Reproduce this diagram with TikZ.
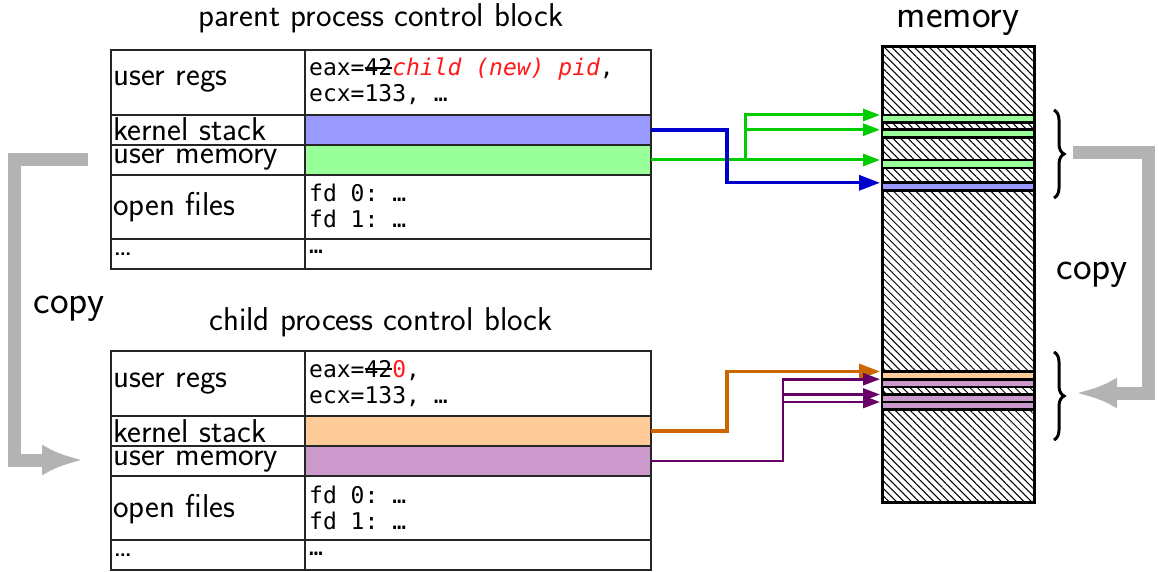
\documentclass[tikz,border=0pt]{standalone}
\usepackage{fontspec}
\setmonofont{DejaVu Sans Mono}
\usetikzlibrary{arrows.meta,patterns.meta,decorations.pathreplacing}

\definecolor{ksblue}{HTML}{9999FF}
\definecolor{umgreen}{HTML}{99FF99}
\definecolor{ksorange}{HTML}{FFCC99}
\definecolor{umpurple}{HTML}{CC99CC}
\definecolor{arblue}{HTML}{0000CC}
\definecolor{argreen}{HTML}{00CC00}
\definecolor{arorange}{HTML}{CC6600}
\definecolor{arpurple}{HTML}{660066}
\definecolor{copygray}{HTML}{B3B3B3}
\definecolor{newval}{HTML}{FF1A1A}

% struck-through text
\newcommand\struck[1]{\setbox0\hbox{#1}\rlap{\rule[0.3em]{\wd0}{0.07em}}\box0}

\tikzset{
  cellbox/.style={draw=black!85, line width=1.2pt, inner sep=0pt, outer sep=0pt,
    anchor=north west},
  lblcell/.style={cellbox, minimum width=194pt},
  valcell/.style={cellbox, minimum width=346pt},
  lbltext/.style={anchor=base west, inner sep=0pt, font=\fontsize{33}{36}\sffamily},
  valtext/.style={anchor=base west, inner sep=0pt, align=left,
    font=\fontsize{23}{26}\ttfamily},
  title/.style={anchor=base, inner sep=0pt, font=\fontsize{33}{38}\sffamily},
  bigtitle/.style={anchor=base, inner sep=0pt, font=\fontsize{39.5}{44}\sffamily},
  band/.style={draw=black, line width=2.6pt, inner sep=0pt, outer sep=0pt,
    minimum width=152pt, anchor=north west},
  ptr/.style={line width=3pt, -{Triangle[length=17pt,width=12pt]}},
  bigptr/.style={line width=3.3pt, -{Triangle[length=21pt,width=15pt]}},
  copyarrow/.style={draw=copygray, line width=13pt, line join=miter,
    -{Latex[length=41pt,width=31pt]}},
  bracemark/.style={decorate, decoration={brace, amplitude=10pt}, line width=3pt},
}

% one process control block: #1 name prefix, #2 vertical offset,
% #3 kernel stack colour, #4 user memory colour, #5 saved eax text
\newcommand\pcbtable[5]{%
  \begin{scope}[shift={(0,#2)}]
    \node[lblcell, minimum height=65pt] (#1-regsL) at (111,50) {};
    \node[valcell, minimum height=65pt] (#1-regs) at (305,50) {};
    \node[lblcell, minimum height=30pt] (#1-ksL) at (111,115) {};
    \node[valcell, minimum height=30pt, fill=#3] (#1-ks) at (305,115) {};
    \node[lblcell, minimum height=30pt] (#1-umL) at (111,145) {};
    \node[valcell, minimum height=30pt, fill=#4] (#1-um) at (305,145) {};
    \node[lblcell, minimum height=64pt] (#1-ofL) at (111,175) {};
    \node[valcell, minimum height=64pt] (#1-of) at (305,175) {};
    \node[lblcell, minimum height=30pt] (#1-etcL) at (111,239) {};
    \node[valcell, minimum height=30pt] (#1-etc) at (305,239) {};
    \node[lbltext] (#1-t1) at (113,86) {user regs};
    \node[lbltext] (#1-t2) at (113,141) {kernel stack};
    \node[lbltext] (#1-t3) at (113,164) {user memory};
    \node[lbltext] (#1-t4) at (113,216) {open files};
    \node[lbltext] (#1-t5) at (113,255) {…};
    \node[valtext] (#1-v1) at (309,76) {eax=#5,};
    \node[valtext] (#1-v2) at (309,102) {ecx=133, …};
    \node[valtext] (#1-v3) at (309,202) {fd 0: …};
    \node[valtext] (#1-v4) at (309,228) {fd 1: …};
    \node[valtext] (#1-v5) at (309,254) {…};
  \end{scope}}

\begin{document}
\begin{tikzpicture}[x=1pt,y=-1pt]
  \useasboundingbox (0,0) rectangle (1159,572);

  % titles
  \node[title] (ptitle) at (381,27) {parent process control block};
  \node[title] (ctitle) at (381,330) {child process control block};
  \node[bigtitle] (mtitle) at (958,28) {memory};

  % the two control blocks
  \pcbtable{p}{0}{ksblue}{umgreen}{\struck{42}\textcolor{newval}{\itshape child (new) pid}}
  \pcbtable{c}{301}{ksorange}{umpurple}{\struck{42}\textcolor{newval}{0}}

  % memory with its used regions
  \node[draw=black, line width=3pt, inner sep=0pt, outer sep=0pt, anchor=north west,
        minimum width=152pt, minimum height=455pt,
        pattern={Lines[angle=-45,distance=5.3pt,line width=1pt]}] (mem) at (882,47) {};
  \node[band, fill=umgreen, minimum height=7.4pt] (mgA) at (882,115) {};
  \node[band, fill=umgreen, minimum height=8pt] (mgB) at (882,129.7) {};
  \node[band, fill=umgreen, minimum height=8pt] (mgC) at (882,160) {};
  \node[band, fill=ksblue, minimum height=7.7pt] (mbl) at (882,182.8) {};
  \node[band, fill=ksorange, minimum height=7.7pt] (mor) at (882,371.5) {};
  \node[band, fill=umpurple, minimum height=7.8pt] (mpA) at (882,379.2) {};
  \node[band, fill=umpurple, minimum height=7.5pt] (mpB) at (882,394.5) {};
  \node[band, fill=umpurple, minimum height=7.7pt] (mpC) at (882,402) {};

  % parent pointers into memory
  \draw[ptr, argreen] (p-um.east) -- ++(94,0) |- ([xshift=-2pt]mgA.north west);
  \draw[ptr, argreen] (p-um.east) -- ++(94,0) |- ([xshift=-2pt]mgB.north west);
  \draw[ptr, argreen] (p-um.east) -- ([xshift=-2pt]mgC.north west);
  \draw[bigptr, arblue] (p-ks.east) -- ++(76,0) |- ([xshift=-2pt]mbl.north west);

  % child pointers into memory
  \draw[bigptr, arorange] (c-ks.east) -- ++(76,0) |- ([xshift=-2pt]mor.north west);
  \draw[ptr, arpurple, line width=2.6pt] (c-um.east) -- ++(132,0) |- ([xshift=-2pt]mpA.north west);
  \draw[ptr, arpurple, line width=2.6pt] (c-um.east) -- ++(132,0) |- ([xshift=-2pt]mpB.north west);
  \draw[ptr, arpurple, line width=2.6pt] (c-um.east) -- ++(132,0) |- ([xshift=-2pt]mpC.north west);

  % braces round the parent and child regions
  \coordinate (pbrTop) at (1054,110);
  \coordinate (pbrBot) at (1054,198);
  \coordinate (cbrTop) at (1054,352);
  \coordinate (cbrBot) at (1054,440);
  \draw[bracemark] (pbrTop) -- (pbrBot);
  \draw[bracemark] (cbrTop) -- (cbrBot);

  % copy arrows
  \coordinate (lcopyFrom) at (88,160);
  \coordinate (lcopyTo) at (83,460);
  \draw[copyarrow] (lcopyFrom) -- ++(-74,0) |- (lcopyTo);
  \node[bigtitle] (lcopy) at (69,313) {copy};

  \coordinate (rcopyFrom) at (1073,153);
  \coordinate (rcopyTo) at (1076,393);
  \draw[copyarrow] (rcopyFrom) -- ++(75,0) |- (rcopyTo);
  \node[bigtitle] (rcopy) at (1092,279) {copy};
\end{tikzpicture}
\end{document}
